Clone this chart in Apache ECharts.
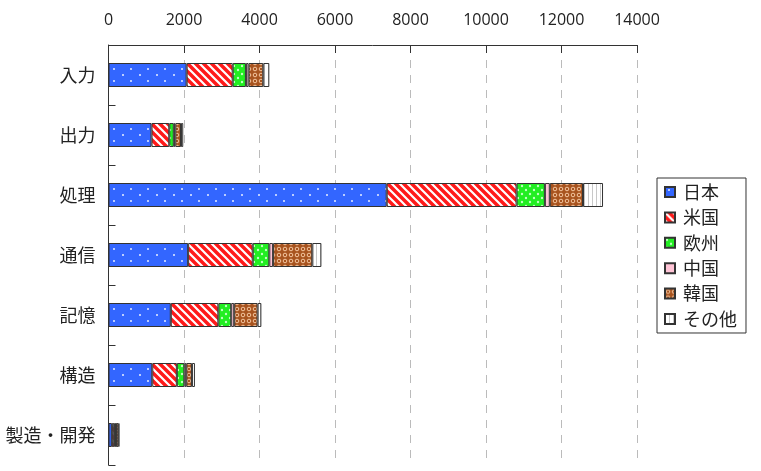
<!DOCTYPE html>
<html>
<head>
<meta charset="utf-8">
<script src="https://cdn.jsdelivr.net/npm/echarts@6/dist/echarts.min.js"></script>
<style>
  html, body { margin: 0; padding: 0; background: #fff; }
  #chart { width: 761px; height: 471px; }
</style>
</head>
<body>
<div id="chart"></div>
<script>
// 分野別データ
const categories = ['入力', '出力', '処理', '通信', '記憶', '構造', '製造・開発'];
const regions = ['日本', '米国', '欧州', '中国', '韓国', 'その他'];

const japan = [2070, 1140, 7370, 2110, 1650, 1160, 90];
const usa = [1220, 470, 3440, 1710, 1260, 650, 60];
const europe = [350, 120, 750, 440, 340, 200, 30];
const china = [70, 40, 130, 100, 80, 50, 20];
const korea = [390, 150, 880, 1040, 620, 150, 60];
const others = [160, 60, 530, 240, 100, 80, 30];

const seriesValues = [japan, usa, europe, china, korea, others];
const xTicks = [0, 2000, 4000, 6000, 8000, 10000, 12000, 14000];

const FONT = '"Noto Sans CJK JP", "Noto Sans", sans-serif';
const NUM_FONT = '"Open Sans", "Noto Sans", sans-serif';

// pattern tiles
function tile(w, h, draw) {
  const c = document.createElement('canvas');
  c.width = w;
  c.height = h;
  draw(c.getContext('2d'), w, h);
  return { image: c, repeat: 'repeat' };
}

const patterns = [
  // 日本: blue, white dots
  tile(17, 12, (ctx, w, h) => {
    ctx.fillStyle = '#3366ff';
    ctx.fillRect(0, 0, w, h);
    ctx.fillStyle = 'rgba(220,230,255,0.8)';
    ctx.fillRect(3, 2, 2, 2);
    ctx.fillRect(11, 8, 2, 2);
  }),
  // 米国: red with white diagonal stripes
  tile(8, 8, (ctx, w, h) => {
    ctx.fillStyle = '#ff1a1a';
    ctx.fillRect(0, 0, w, h);
    ctx.strokeStyle = '#ffffff';
    ctx.lineWidth = 2.2;
    ctx.beginPath();
    ctx.moveTo(-2, -2); ctx.lineTo(w + 2, h + 2);
    ctx.moveTo(-2, h - 2); ctx.lineTo(2, h + 2);
    ctx.moveTo(w - 2, -2); ctx.lineTo(w + 2, 2);
    ctx.stroke();
  }),
  // 欧州: green, white dots
  tile(8, 8, (ctx, w, h) => {
    ctx.fillStyle = '#22ee22';
    ctx.fillRect(0, 0, w, h);
    ctx.fillStyle = 'rgba(220,255,220,0.85)';
    ctx.beginPath();
    ctx.arc(2, 2, 1.2, 0, Math.PI * 2);
    ctx.arc(6, 6, 1.2, 0, Math.PI * 2);
    ctx.fill();
  }),
  // 中国: pink
  '#ffc4d6',
  // 韓国: brown, light rings
  tile(6, 6, (ctx, w, h) => {
    ctx.fillStyle = '#a8541f';
    ctx.fillRect(0, 0, w, h);
    ctx.strokeStyle = 'rgba(255,215,180,0.85)';
    ctx.lineWidth = 1;
    ctx.beginPath();
    ctx.arc(3, 3, 1.8, 0, Math.PI * 2);
    ctx.stroke();
  }),
  // その他: white, gray vertical lines
  tile(4, 4, (ctx, w, h) => {
    ctx.fillStyle = '#ffffff';
    ctx.fillRect(0, 0, w, h);
    ctx.fillStyle = '#c8c8c8';
    ctx.fillRect(0, 0, 1, h);
  })
];

const chart = echarts.init(document.getElementById('chart'), null, { renderer: 'canvas' });

const option = {
  backgroundColor: '#ffffff',
  animation: false,
  textStyle: { fontFamily: FONT },
  grid: { left: 108.5, right: 124, top: 45, bottom: 6 },
  legend: {
    orient: 'vertical',
    left: 657,
    top: 178,
    data: regions,
    icon: 'rect',
    itemWidth: 10,
    itemHeight: 10,
    itemGap: 7.4,
    padding: [5, 9, 5, 7],
    borderColor: '#333',
    borderWidth: 1,
    borderRadius: 0,
    textStyle: { fontFamily: FONT, fontSize: 18, color: '#222', padding: [0, 0, 0, 3] }
  },
  xAxis: {
    type: 'value',
    position: 'top',
    min: xTicks[0],
    max: xTicks[xTicks.length - 1],
    interval: 2000,
    axisLine: { show: true, lineStyle: { color: '#333', width: 1 } },
    axisTick: { show: true, inside: true, length: 8, lineStyle: { color: '#333' } },
    axisLabel: {
      fontFamily: NUM_FONT, fontSize: 16, color: '#222', margin: 17,
      formatter: (v) => String(v)
    },
    splitLine: { show: true, lineStyle: { color: '#bbb', type: [8, 7], width: 1 } }
  },
  yAxis: {
    type: 'category',
    data: categories,
    inverse: true,
    axisLine: { show: true, lineStyle: { color: '#333', width: 1 } },
    axisTick: { show: true, inside: true, length: 7, lineStyle: { color: '#333' } },
    axisLabel: { fontFamily: FONT, fontSize: 18, color: '#222', margin: 13 },
    splitLine: { show: false }
  },
  series: regions.map((name, i) => ({
    name: name,
    type: 'bar',
    stack: 'total',
    barWidth: 24,
    data: seriesValues[i],
    itemStyle: {
      color: patterns[i],
      borderColor: '#333',
      borderWidth: 1
    }
  }))
};

chart.setOption(option);
</script>
</body>
</html>
